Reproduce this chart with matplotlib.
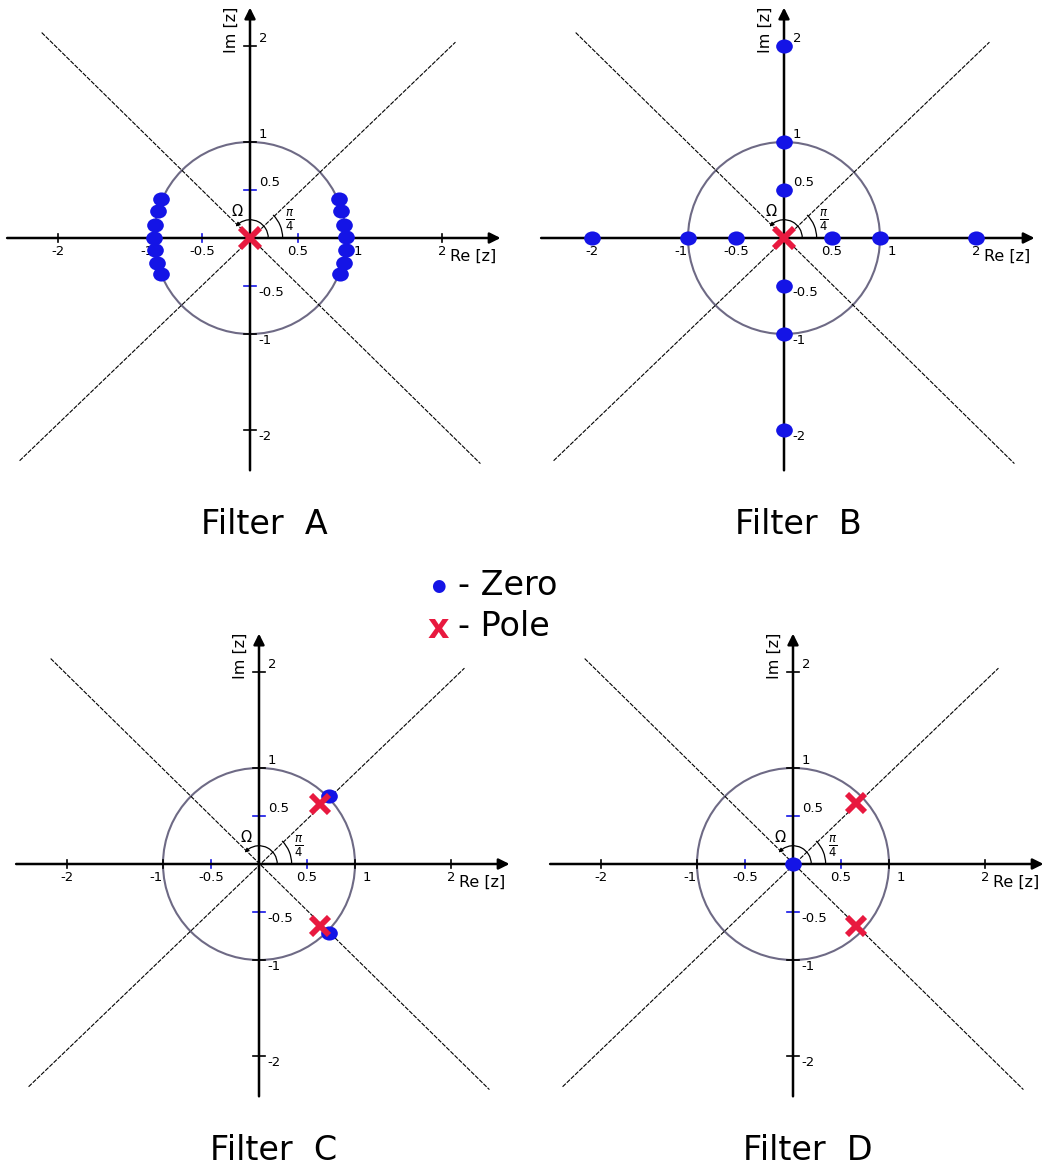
import matplotlib
matplotlib.use("Agg")
import matplotlib.pyplot as plt
from matplotlib.patches import Arc, Circle
from matplotlib.path import Path
from matplotlib.transforms import Affine2D

# pole-zero plots for four filters (z-plane)
zeros_a_re = [-0.93, -0.96, -0.99, -1.00, -0.99, -0.97, -0.93,
              0.93, 0.95, 0.98, 1.00, 1.00, 0.98, 0.94]
zeros_a_im = [0.41, 0.28, 0.14, 0.00, -0.12, -0.26, -0.38,
              0.41, 0.28, 0.14, 0.01, -0.12, -0.26, -0.38]
poles_a_re = [0.0]
poles_a_im = [0.0]

zeros_b_re = [-2, -1, -0.5, 0.5, 1, 2, 0, 0, 0, 0, 0, 0]
zeros_b_im = [0, 0, 0, 0, 0, 0, 2, 1, 0.5, -0.5, -1, -2]
poles_b_re = [0.0]
poles_b_im = [0.0]

zeros_c_re = [0.73, 0.73]
zeros_c_im = [0.71, -0.72]
poles_c_re = [0.64, 0.64]
poles_c_im = [0.63, -0.65]

zeros_d_re = [0.0]
zeros_d_im = [0.0]
poles_d_re = [0.66, 0.66]
poles_d_im = [0.64, -0.65]

titles = ["Filter  A", "Filter  B", "Filter  C", "Filter  D"]
x_ticks = [-2, -1, -0.5, 0.5, 1, 2]
y_ticks = [2, 1, 0.5, -0.5, -1, -2]
tick_text = {2: "2", 1: "1", 0.5: "0.5", -0.5: "-0.5", -1: "-1", -2: "-2"}

BLUE = "#1414e6"
RED = "#e8193f"
CIRCLE = "#6e6a85"

W, H = 1044, 1176
S = 96.0  # pixels per unit
XL, XR, YB, YT = -2.7, 2.85, -3.4, 2.6

# slightly wide oval for the zero markers
OVAL = Path.unit_circle().transformed(Affine2D().scale(1.18, 1.0))

fig = plt.figure(figsize=(W / 100, H / 100), dpi=100)


def panel(ox, oy, zre, zim, pre, pim, title, pole_size):
    left = (ox + XL * S) / W
    bottom = (H - (oy - YB * S)) / H
    ax = fig.add_axes([left, bottom, (XR - XL) * S / W, (YT - YB) * S / H])
    ax.set_xlim(XL, XR)
    ax.set_ylim(YB, YT)
    ax.axis("off")

    # diagonals at +-45 degrees
    diag = dict(color="k", lw=0.8, ls=(0, (4, 1.2)), clip_on=False)
    ax.plot([-2.17, 2.40], [2.14, -2.35], **diag)
    ax.plot([-2.40, 2.14], [-2.32, 2.04], **diag)

    # unit circle
    ax.add_patch(Circle((0, 0), 1.0, fill=False, ec=CIRCLE, lw=1.5, clip_on=False))

    # axes with arrow heads
    arrow = dict(arrowstyle="-|>", color="k", lw=1.8, mutation_scale=16,
                 shrinkA=0, shrinkB=0)
    ax.annotate("", xy=(2.61, 0), xytext=(-2.53, 0), arrowprops=arrow)
    ax.annotate("", xy=(0, 2.4), xytext=(0, -2.42), arrowprops=arrow)

    # tick marks
    for v in x_ticks:
        c = BLUE if abs(v) == 0.5 else "k"
        ax.plot([v, v], [-0.045, 0.045], color=c, lw=1.2)
        dx = {-1: -0.07, 1: 0.12}.get(v, 0)
        ax.text(v + dx, -0.07, tick_text[v], ha="center", va="top", fontsize=9.5)
    for v in y_ticks:
        c = BLUE if abs(v) == 0.5 else "k"
        ax.plot([-0.06, 0.06], [v, v], color=c, lw=1.2)
        dy = 0.08 if v > 0 else -0.07
        ax.text(0.09, v + dy, tick_text[v], ha="left", va="center", fontsize=9.5)

    ax.text(2.08, -0.19, "Re [z]", ha="left", va="center", fontsize=11.5)
    ax.text(-0.2, 2.17, "Im [z]", ha="center", va="center", rotation=90,
            fontsize=11.5)

    # angle marks
    ax.add_patch(Arc((0, 0), 0.68, 0.68, theta1=0, theta2=45, lw=0.9))
    ax.add_patch(Arc((0, 0), 0.38, 0.38, theta1=0, theta2=125, lw=0.9))
    ax.annotate("", xy=(-0.15, 0.12), xytext=(-0.11, 0.155),
                arrowprops=dict(arrowstyle="-|>", lw=0.8, color="k",
                                mutation_scale=6, shrinkA=0, shrinkB=0))
    ax.text(-0.13, 0.28, r"$\Omega$", ha="center", va="center", fontsize=10.5)
    ax.text(0.41, 0.18, r"$\frac{\pi}{4}$", ha="center", va="center", fontsize=12)

    ax.plot(zre, zim, ls="none", marker=OVAL, color=BLUE, ms=12, mec=BLUE,
            mew=0, clip_on=False, zorder=5)
    ax.plot(pre, pim, "x", color=RED, ms=pole_size, mew=4.2, clip_on=False,
            zorder=6)

    ax.text(0.15, -2.98, title, ha="center", va="center", fontsize=24)


panel(250, 238, zeros_a_re, zeros_a_im, poles_a_re, poles_a_im, titles[0], 15)
panel(784, 238, zeros_b_re, zeros_b_im, poles_b_re, poles_b_im, titles[1], 14)
panel(259, 864, zeros_c_re, zeros_c_im, poles_c_re, poles_c_im, titles[2], 12.5)
panel(793, 864, zeros_d_re, zeros_d_im, poles_d_re, poles_d_im, titles[3], 12.5)

# legend
fig.text(438 / W, 1 - 586 / H, "\u25cf", color=BLUE, fontsize=12,
         ha="center", va="center")
fig.text(458 / W, 1 - 586 / H, "- Zero", fontsize=24, ha="left", va="center")
fig.text(438 / W, 1 - 628 / H, "x", color=RED, fontsize=24, fontweight="bold",
         ha="center", va="center")
fig.text(458 / W, 1 - 626 / H, "- Pole", fontsize=24, ha="left", va="center")

fig.savefig("out.png", dpi=100)
